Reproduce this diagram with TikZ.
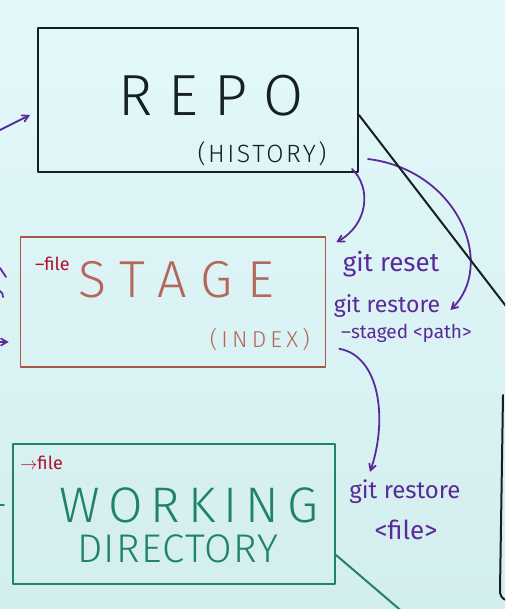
\documentclass[tikz,border=0pt]{standalone}
\usepackage{fontspec}
\newfontfamily\hand{Fira Sans Light}[Ligatures=TeX]
\newfontfamily\handb{Fira Sans}[Ligatures=TeX]
\usepackage{tikz}
\usetikzlibrary{arrows}
\usetikzlibrary{positioning}
\definecolor{bgtop}{HTML}{E3F8FA}
\definecolor{bgbot}{HTML}{D3EEEE}
\definecolor{repoc}{HTML}{15201F}
\definecolor{stagec}{HTML}{A65846}
\definecolor{stagetx}{HTML}{B4675A}
\definecolor{wdc}{HTML}{1F8466}
\definecolor{gitc}{HTML}{5A2A9A}
\definecolor{markc}{HTML}{B3102E}
\newcommand\hw[2]{\hand\fontsize{#1}{#1}\selectfont\addfontfeatures{LetterSpace=#2}}
\newcommand\hb[1]{\handb\fontsize{#1}{#1}\selectfont}
\tikzset{
  area/.style={draw=#1,line width=2pt,inner sep=0pt},
  gitlbl/.style={text=gitc,font={\hb{#1}},inner sep=0pt},
  arr/.style={->,draw=gitc,line width=1.8pt}
}

\begin{document}
\begin{tikzpicture}[line cap=round,line join=round,>=angle 60,x=1.0pt,y=-1.0pt]
      \shade[top color=bgtop,bottom color=bgbot] (0,0) rectangle (505,609);
      \clip (0,0) rectangle (505,609);
      \node[area=repoc,minimum width=320pt,minimum height=144pt] (repo) at (198,100) {};
      \node[text=repoc,font={\hw{58}{28}}] (repolbl) at (211,96) {REPO};
      \node[text=repoc,font={\hw{25}{10}},anchor=south east] (hist) at ([xshift=-29pt,yshift=4pt]repo.south east) {(HISTORY)};
      \node[area=stagec,line width=1.6pt,minimum width=305pt,minimum height=130pt] (stage) at (173,302) {};
      \node[text=stagetx,font={\hw{52}{28}}] (stagelbl) at (176,280) {STAGE};
      \node[text=stagetx,font={\hw{23}{18}},anchor=south east] (idx) at ([xshift=-13pt,yshift=14pt]stage.south east) {(INDEX)};
      \node[text=markc,font={\hb{18}},anchor=west,inner sep=0pt] (sfile) at (35,264) {--file};
      \node[area=wdc,minimum width=322pt,minimum height=140pt] (wd) at (174,514) {};
      \node[text=wdc,font={\hw{50}{16}}] (wdlbl) at (189,505) {WORKING};
      \node[text=wdc,font={\hw{40}{3}}] (dirlbl) at (178,549) {DIRECTORY};
      \node[text=markc,font={\hb{18}},anchor=west,inner sep=0pt] (wfile) at (20,463) {$\to$file};
      \node[gitlbl=26] (reset) at (391,264) {git reset};
      \node[gitlbl=23] (rstag) at (387,306) {git restore};
      \node[gitlbl=19,anchor=west] (staged) at (341,333) {--staged <path>};
      \node[gitlbl=24] (rwd) at (405,492) {git restore};
      \node[gitlbl=26] (rfile) at (406,530) {<file>};
      \draw[arr] ([xshift=-7pt,yshift=4pt]repo.south east) .. controls (372,188) and (368,225) .. ([xshift=10pt,yshift=-6pt]stage.north east);
      \draw[arr] ([xshift=9pt,yshift=14pt]repo.south east) .. controls (458,170) and (497,265) .. ([xshift=10pt,yshift=-4pt]rstag.east);
      \draw[arr] ([xshift=13pt,yshift=19pt]stage.south east) .. controls (380,356) and (388,420) .. ([xshift=-35pt,yshift=8pt]rwd.north);
      \coordinate (offr) at (512,314);
      \coordinate (vtop) at (503,395);
      \coordinate (vbot) at (500,590);
      \coordinate (hook) at (507,600);
      \coordinate (offb) at (405,614);
      \draw[repoc,line width=2pt] ([yshift=-15pt]repo.east) -- (offr);
      \draw[repoc,line width=2pt] (vtop) -- (vbot) to[out=-95,in=180] (hook);
      \draw[wdc,line width=2pt] ([yshift=-41pt]wd.east) -- (offb);
      \coordinate (inr) at (-2,131);
      \coordinate (ins) at (-4,342);
      \coordinate (ins2) at (0,268);
      \coordinate (ins3) at (0,291);
      \coordinate (inw) at (0,505);
      \draw[arr] (inr) -- ([xshift=-7pt,yshift=-15pt]repo.west);
      \draw[arr] (ins) -- ([xshift=-11pt,yshift=-40pt]stage.west);
      \draw[gitc,line width=1.8pt] (ins2) -- ++(6,9);
      \draw[gitc,line width=1.8pt] (ins3) to[bend left] ++(3,6);
      \draw[wdc,line width=1.6pt] (inw) -- ++(4,0);
    \end{tikzpicture}
\end{document}
